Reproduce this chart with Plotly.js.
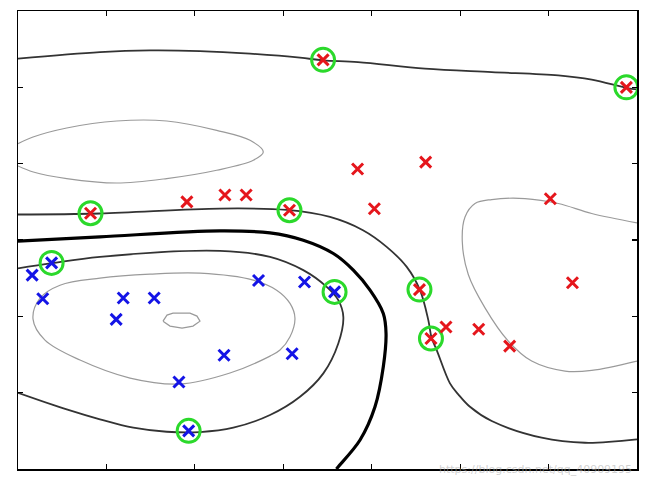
<!DOCTYPE html>
<html>
<head>
<meta charset="utf-8">
<script src="https://cdn.plot.ly/plotly-3.0.1.min.js"></script>
<style>html,body{margin:0;padding:0;background:#fff;}#chart{width:650px;height:482px;}</style>
</head>
<body>
<div id="chart"></div>
<script>
// Training points
const redX = [3.45, 6.88, 0.82, 1.91, 2.34, 2.58, 3.07, 3.84, 4.61, 4.03, 6.02, 6.27, 4.54, 4.67, 4.84, 5.21, 5.56];
const redY = [5.36, 5.00, 3.35, 3.50, 3.59, 3.59, 3.39, 3.93, 4.02, 3.41, 3.54, 2.44, 2.35, 1.71, 1.86, 1.83, 1.61];
const blueX = [0.38, 0.16, 0.28, 1.19, 1.54, 1.11, 2.72, 3.24, 2.33, 3.10, 1.82, 3.58, 1.93];
const blueY = [2.70, 2.54, 2.23, 2.24, 2.24, 1.96, 2.47, 2.45, 1.49, 1.51, 1.14, 2.32, 0.50];
// Support vectors (circled)
const svX = [3.45, 6.88, 0.82, 3.07, 4.54, 4.67, 0.38, 3.58, 1.93];
const svY = [5.36, 5.00, 3.35, 3.39, 2.35, 1.71, 2.70, 2.32, 0.50];

// Contour lines
const marginTopX = [0, 0.927, 1.493, 2.058, 2.624, 3.189, 3.449, 3.845, 4.602, 5.357, 6.110, 6.488, 6.887, 7.0];
const marginTopY = [5.376, 5.462, 5.484, 5.475, 5.441, 5.389, 5.353, 5.331, 5.245, 5.200, 5.157, 5.101, 4.991, 4.974];

const marginRedX = [0, 0.927, 2.284, 3.039, 3.528, 3.901, 4.169, 4.396, 4.546, 4.640, 4.678, 4.735, 4.885, 4.979, 5.111, 5.357, 5.922, 6.412, 7.0];
const marginRedY = [3.334, 3.347, 3.412, 3.394, 3.302, 3.128, 2.910, 2.648, 2.343, 1.950, 1.715, 1.558, 1.122, 0.978, 0.815, 0.628, 0.410, 0.344, 0.389];

const boundaryX = [0, 0.927, 2.284, 2.850, 3.226, 3.566, 3.792, 3.981, 4.131, 4.162, 4.131, 4.037, 3.868, 3.622, 3.601];
const boundaryY = [2.984, 3.041, 3.119, 3.093, 2.997, 2.823, 2.605, 2.343, 2.038, 1.776, 1.339, 0.815, 0.380, 0.030, 0];

const marginBlueX = [0, 0.384, 0.927, 2.284, 2.850, 3.226, 3.491, 3.622, 3.679, 3.622, 3.453, 3.189, 2.850, 2.435, 2.058, 1.682, 1.304, 0.927, 0.551, 0];
const marginBlueY = [2.627, 2.696, 2.779, 2.857, 2.779, 2.605, 2.386, 2.212, 1.993, 1.645, 1.253, 0.946, 0.707, 0.541, 0.484, 0.488, 0.541, 0.651, 0.781, 0.999];

const levelUpperX = [0, 0.170, 0.551, 1.116, 1.682, 2.247, 2.624, 2.774, 2.661, 2.247, 1.682, 1.116, 0.551, 0.173, 0];
const levelUpperY = [4.263, 4.349, 4.467, 4.559, 4.559, 4.437, 4.306, 4.153, 4.045, 3.914, 3.805, 3.747, 3.805, 3.891, 3.970];

const levelRightX = [7.0, 6.488, 6.110, 5.733, 5.357, 5.168, 5.055, 5.024, 5.092, 5.281, 5.545, 5.809, 6.186, 6.488, 7.0];
const levelRightY = [3.224, 3.347, 3.478, 3.543, 3.530, 3.478, 3.302, 2.984, 2.548, 2.111, 1.675, 1.414, 1.283, 1.292, 1.414];

const levelBlueX = [0.170, 0.249, 0.475, 0.927, 1.493, 2.058, 2.661, 2.925, 3.076, 3.132, 3.076, 2.963, 2.850, 2.397, 1.832, 1.267, 0.701, 0.305, 0.170];
const levelBlueY = [1.963, 2.238, 2.408, 2.500, 2.552, 2.565, 2.474, 2.343, 2.169, 1.976, 1.732, 1.558, 1.479, 1.257, 1.113, 1.191, 1.427, 1.688, 1.963];

const levelInnerX = [1.640, 1.685, 1.753, 1.945, 2.024, 2.058, 1.979, 1.855, 1.719, 1.640];
const levelInnerY = [1.937, 2.016, 2.042, 2.042, 2.003, 1.937, 1.872, 1.846, 1.872, 1.937];

const xTicks = [1, 2, 3, 4, 5, 6];
const yTicks = [1, 2, 3, 4, 5];

function curve(x, y, color, width) {
  return {x: x, y: y, type: 'scatter', mode: 'lines', hoverinfo: 'skip',
          line: {color: color, width: width, shape: 'spline', smoothing: 1}};
}
const grayC = '#9a9a9a', darkC = '#333333';
const traces = [
  curve(levelUpperX, levelUpperY, grayC, 1.2),
  curve(levelRightX, levelRightY, grayC, 1.2),
  curve(levelBlueX, levelBlueY, grayC, 1.2),
  {x: levelInnerX, y: levelInnerY, type: 'scatter', mode: 'lines', hoverinfo: 'skip', line: {color: grayC, width: 1.2}},
  curve(marginTopX, marginTopY, darkC, 1.8),
  curve(marginRedX, marginRedY, darkC, 1.8),
  curve(marginBlueX, marginBlueY, darkC, 1.8),
  curve(boundaryX, boundaryY, '#000000', 3.2),
  {x: svX, y: svY, type: 'scatter', mode: 'markers', hoverinfo: 'skip',
   marker: {symbol: 'circle-open', size: 23, color: '#2bd92b', line: {width: 3, color: '#2bd92b'}}},
  {x: redX, y: redY, type: 'scatter', mode: 'markers', hoverinfo: 'skip',
   marker: {symbol: 'x-thin-open', size: 11, color: '#e5161c', line: {width: 3, color: '#e5161c'}}},
  {x: blueX, y: blueY, type: 'scatter', mode: 'markers', hoverinfo: 'skip',
   marker: {symbol: 'x-thin-open', size: 11, color: '#1414e6', line: {width: 3, color: '#1414e6'}}}
];

const axisCommon = {showgrid: false, zeroline: false, showticklabels: false,
  ticks: 'inside', ticklen: 5, tickwidth: 1.2, tickcolor: '#000',
  showline: true, linecolor: '#000', linewidth: 1.5, mirror: 'ticks'};

const layout = {
  width: 650, height: 482,
  margin: {l: 18, r: 13, t: 11, b: 13},
  paper_bgcolor: '#ffffff', plot_bgcolor: '#ffffff',
  showlegend: false,
  xaxis: Object.assign({range: [0, 7], tickvals: xTicks}, axisCommon),
  yaxis: Object.assign({range: [0, 6], tickvals: yTicks}, axisCommon),
  annotations: [{text: 'https://blog.csdn.net/qq_40909195', xref: 'paper', yref: 'paper',
    x: 0.995, y: 0.0, xanchor: 'right', yanchor: 'middle', showarrow: false,
    font: {family: 'DejaVu Sans', size: 11, color: 'rgba(170,170,170,0.55)'}}]
};

Plotly.newPlot('chart', traces, layout, {staticPlot: true, displayModeBar: false});
</script>
</body>
</html>
